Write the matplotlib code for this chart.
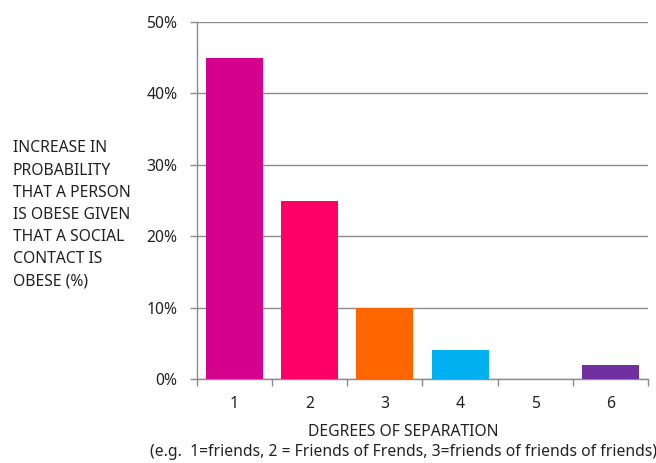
import matplotlib
matplotlib.use('Agg')
from matplotlib import pyplot as plt
from matplotlib.ticker import PercentFormatter

degrees = ['1', '2', '3', '4', '5', '6']
increase = [45, 25, 10, 4, 0, 2]
colors = ['#D6008F', '#FF0066', '#FF6600', '#00B0F0', '#7F7F7F', '#7030A0']

plt.rcParams['font.family'] = ['Noto Sans', 'DejaVu Sans']
grid_grey = '#8C8C8C'
text_col = '#222222'
fs = 11.3

fig = plt.figure(figsize=(6.56, 4.63), dpi=100)
ax = fig.add_axes([0.3003, 0.1814, 0.6875, 0.7711])

x = range(len(degrees))
ax.bar(x, increase, width=0.76, color=colors, zorder=3)

ax.set_xlim(-0.5, len(degrees) - 0.5)
ax.set_ylim(0, 50)
ax.set_yticks(range(0, 51, 10))
ax.yaxis.set_major_formatter(PercentFormatter(decimals=0))
ax.set_xticks(x)
ax.set_xticklabels(degrees)
# category boundaries get the small tick marks, labels stay centred
ax.set_xticks([i - 0.5 for i in range(len(degrees) + 1)], minor=True)
ax.tick_params(axis='x', which='major', length=0, pad=12, labelsize=fs,
               labelcolor=text_col)
ax.tick_params(axis='x', which='minor', length=5, color=grid_grey, width=1)
ax.tick_params(axis='y', length=5, color=grid_grey, width=1, pad=9,
               labelsize=fs, labelcolor=text_col)

ax.grid(axis='y', color=grid_grey, linewidth=1, zorder=0)
for side in ['top', 'right']:
    ax.spines[side].set_visible(False)
for side in ['left', 'bottom']:
    ax.spines[side].set_color(grid_grey)
    ax.spines[side].set_linewidth(1)

fig.text(13 / 656, 1 - 215 / 463,
         'INCREASE IN\nPROBABILITY\nTHAT A PERSON\nIS OBESE GIVEN\nTHAT A SOCIAL\nCONTACT IS\nOBESE (%)',
         ha='left', va='center', fontsize=fs, linespacing=1.515, color=text_col)
fig.text(403 / 656, 1 - 432 / 463, 'DEGREES OF SEPARATION',
         ha='center', va='center', fontsize=fs, color=text_col)
fig.text(403 / 656, 1 - 452 / 463,
         '(e.g.  1=friends, 2 = Friends of Frends, 3=friends of friends of friends)',
         ha='center', va='center', fontsize=fs, color=text_col)

fig.savefig('out.png', dpi=100)
plt.close(fig)
